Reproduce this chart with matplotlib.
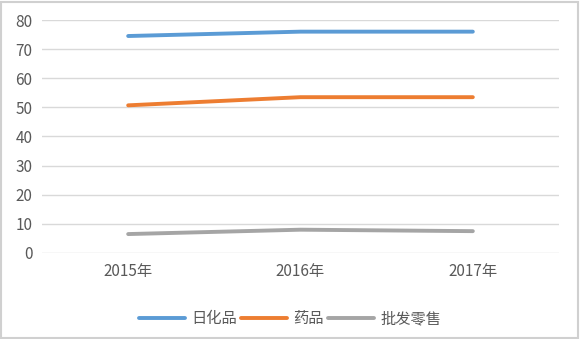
import matplotlib.pyplot as plt

plt.rcParams['font.family'] = ['Noto Sans CJK SC', 'DejaVu Sans']

years = ['2015年', '2016年', '2017年']
rihuapin = [74.5, 76.0, 76.0]
yaopin = [50.7, 53.5, 53.5]
pifa = [6.5, 8.0, 7.5]

series = [
    ('日化品', rihuapin, '#5B9BD5'),
    ('药品', yaopin, '#ED7D31'),
    ('批发零售', pifa, '#A5A5A5'),
]

fig = plt.figure(figsize=(5.8, 3.39), dpi=100)
ax = fig.add_axes([0.0724, 0.2537, 0.8914, 0.6873])

x = range(len(years))
for name, vals, col in series:
    ax.plot(x, vals, color=col, linewidth=2.8, label=name, solid_capstyle='round')

ax.set_xlim(-0.5, 2.5)
ax.set_ylim(0, 80)
ax.set_yticks(range(0, 81, 10))
ax.set_xticks(list(x))
ax.set_xticklabels(years)
ax.grid(axis='y', color='#D9D9D9', linewidth=1)
ax.set_axisbelow(True)
for s in ax.spines.values():
    s.set_visible(False)
ax.tick_params(length=0, labelsize=11, colors='#595959')
ax.tick_params(axis='y', pad=7)
ax.tick_params(axis='x', pad=7)

fig.legend(loc='lower center', bbox_to_anchor=(0.5, -0.005), ncol=3, frameon=False,
           fontsize=11, labelcolor='#595959', handlelength=3.0, columnspacing=0.3,
           handletextpad=0.4)

# thin outer frame
fig.patches.append(plt.Rectangle((0.002, 0.003), 0.994, 0.992, transform=fig.transFigure,
                                 fill=False, edgecolor='#D0D0D0', linewidth=1.5))

fig.savefig('out.png', dpi=100)
